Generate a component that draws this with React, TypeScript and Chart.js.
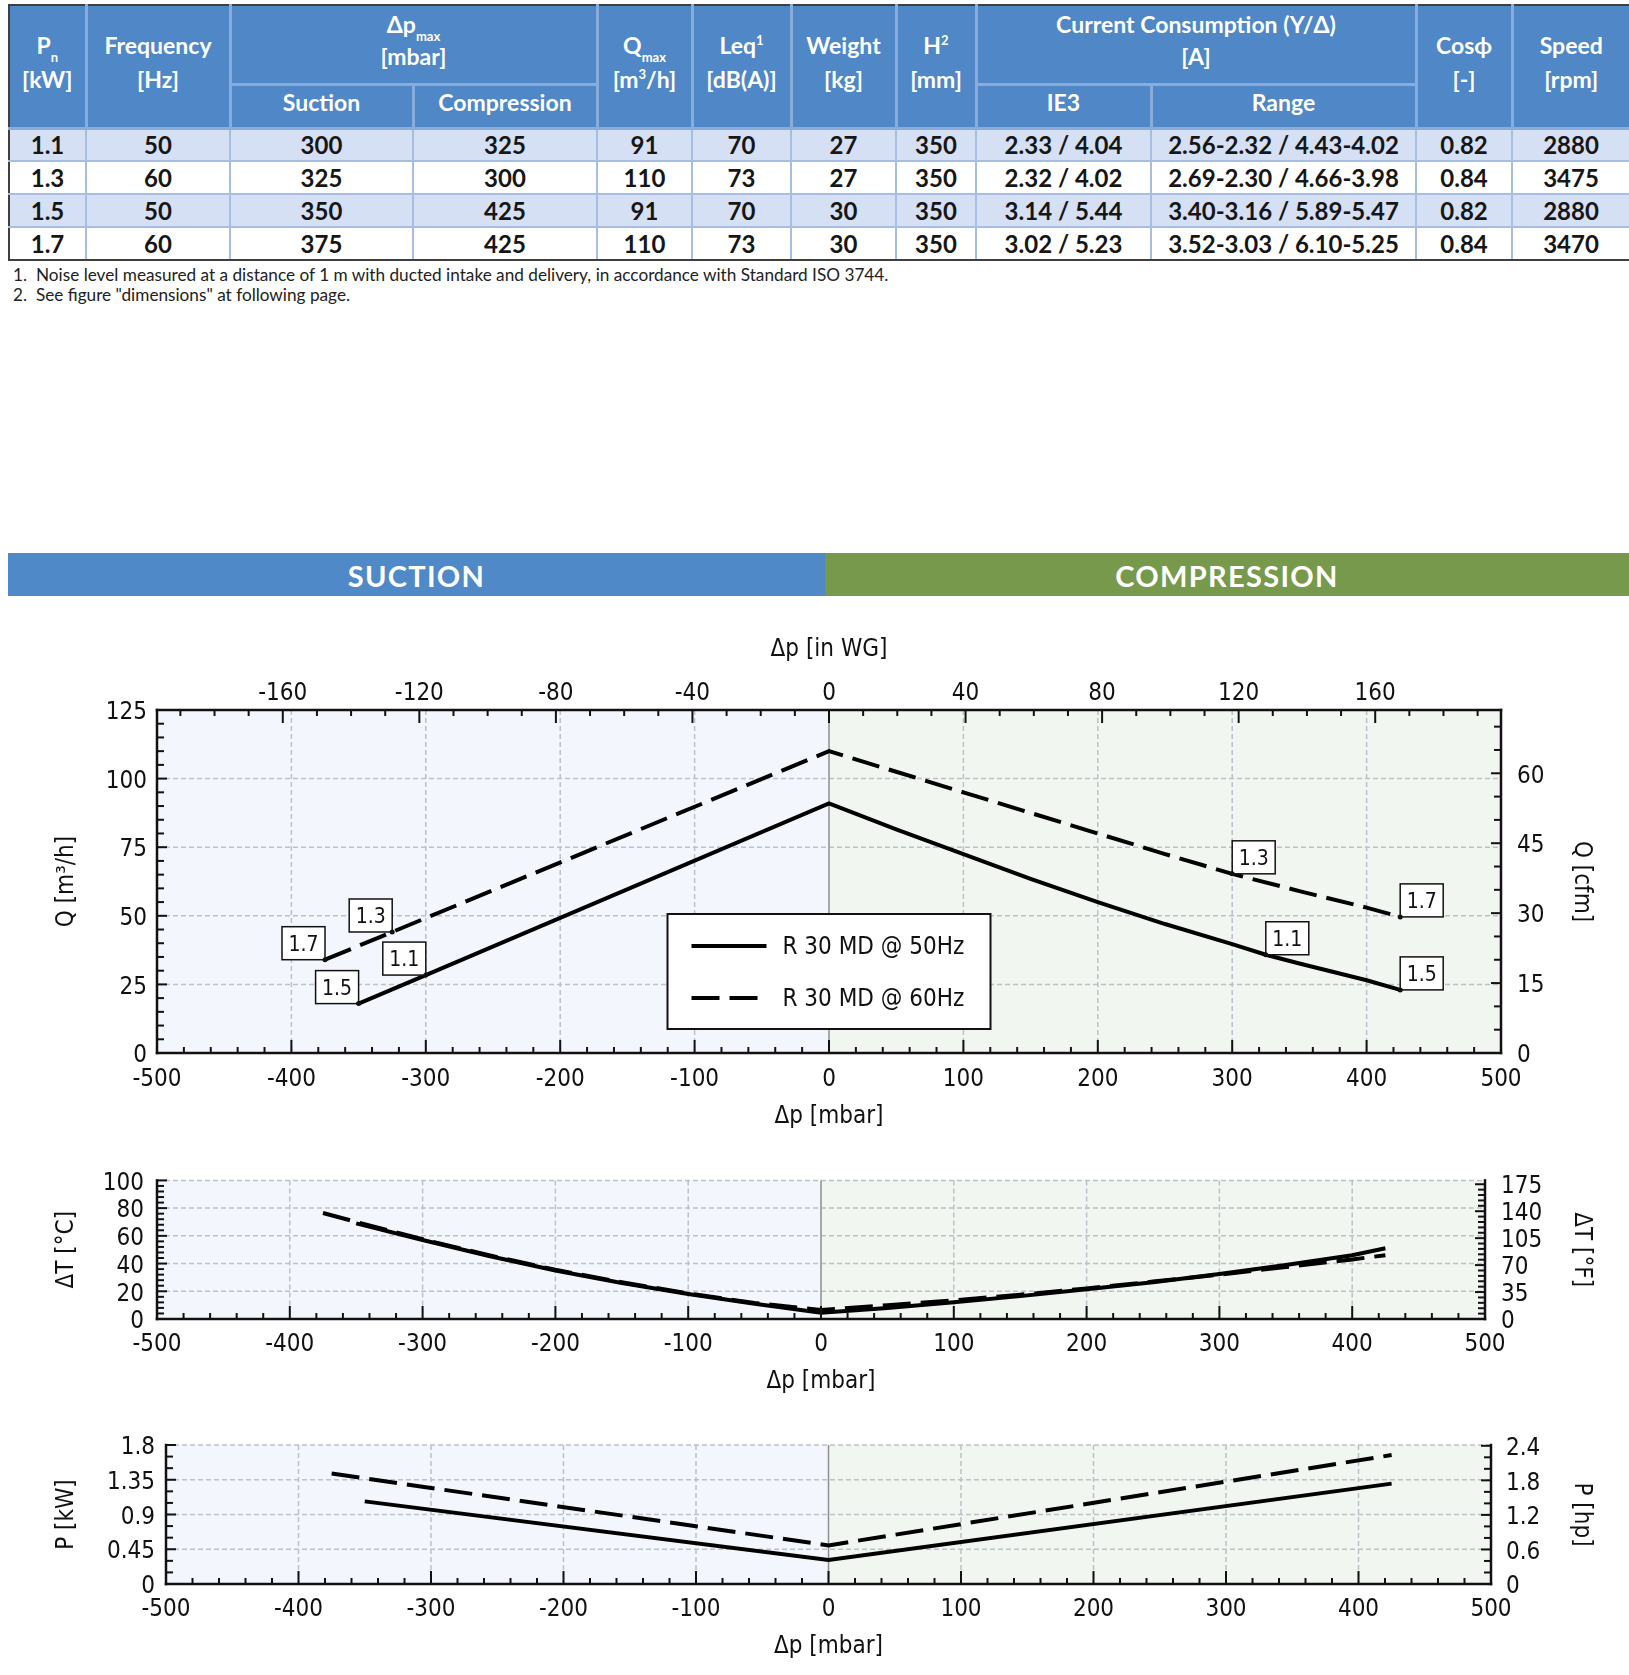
import React, { useEffect, useRef } from 'react';
import { Chart, registerables } from 'chart.js';

Chart.register(...registerables);

// ---------------- Table data ----------------
const models = ['1.1', '1.3', '1.5', '1.7'];
const frequencies = [50, 60, 50, 60];
const suctionMax = [300, 325, 350, 375];
const compressionMax = [325, 300, 425, 425];
const qMax = [91, 110, 91, 110];
const noiseLeq = [70, 73, 70, 73];
const weights = [27, 27, 30, 30];
const heightsMm = [350, 350, 350, 350];
const currentIE3 = ['2.33 / 4.04', '2.32 / 4.02', '3.14 / 5.44', '3.02 / 5.23'];
const currentRange = ['2.56-2.32 / 4.43-4.02', '2.69-2.30 / 4.66-3.98', '3.40-3.16 / 5.89-5.47', '3.52-3.03 / 6.10-5.25'];
const cosPhi = ['0.82', '0.84', '0.82', '0.84'];
const speeds = [2880, 3475, 2880, 3470];

// ---------------- Chart data ----------------
// Flow Q [m3/h] vs Δp [mbar]
const flow50Dp = [-350, -300, 0, 50, 100, 150, 200, 250, 300, 325, 350, 400, 425];
const flow50 = [18, 28.4, 91, 81.5, 72.5, 63.5, 55, 47, 39.7, 35.8, 32.6, 26.5, 23];
const flow60Dp = [-375, -325, 0, 50, 100, 150, 200, 250, 300, 350, 400, 425];
const flow60 = [34, 44.1, 110, 102.5, 95, 87.5, 80, 72.5, 65.3, 59, 53, 49.6];
// Temperature rise ΔT [°C] vs Δp [mbar]
const temp50Dp = [-350, -300, -250, -200, -150, -100, -50, 0, 50, 100, 150, 200, 250, 300, 350, 400, 425];
const temp50 = [69, 57, 45.5, 35, 26, 18, 11, 4.5, 8, 12, 16.5, 21.5, 26.5, 32.5, 39, 46, 51];
const temp60Dp = [-375, -350, -300, -250, -200, -150, -100, -50, 0, 50, 100, 150, 200, 250, 300, 350, 400, 425];
const temp60 = [76.5, 70, 57.5, 46, 35.5, 26.5, 18.5, 11.5, 6.5, 10, 13.5, 17.5, 22, 27, 32, 37.5, 43, 46];
// Power P [kW] vs Δp [mbar]
const power50Dp = [-350, 0, 425];
const power50 = [1.07, 0.31, 1.3];
const power60Dp = [-375, 0, 425];
const power60 = [1.43, 0.5, 1.67];

const seriesLabels = ['R 30 MD @ 50Hz', 'R 30 MD @ 60Hz'];

// unit conversions for secondary axes
const CFM_PER_M3H = 0.588578;
const MBAR_PER_INWG = 2.54;
const F_PER_C = 1.8;
const HP_PER_KW = 1.341;

// ---------------- Styling ----------------
const FONT = "'DejaVu Sans Condensed', 'DejaVu Sans', sans-serif";
const TABLE_FONT = "Lato, 'Open Sans', sans-serif";
const INK = '#111111';
const DASH = [28, 10];
const W = 1629;

function interp(xs: number[], ys: number[], x: number) {
  for (let i = 0; i < xs.length - 1; i++) {
    if (x >= xs[i] && x <= xs[i + 1]) {
      const t = (x - xs[i]) / (xs[i + 1] - xs[i]);
      return ys[i] + t * (ys[i + 1] - ys[i]);
    }
  }
  return NaN;
}

function fmt(v: number) {
  return String(Math.round(v * 100) / 100);
}

type Pos = 'left' | 'right' | 'top' | 'bottom';
type AxisSpec = {
  position: Pos; min: number; max: number; step: number; size: number;
  tickPad: number; title: string; titlePad: number;
};

function buildScale(s: AxisSpec) {
  const vertical = s.position === 'left' || s.position === 'right';
  return {
    type: 'linear',
    position: s.position,
    min: s.min,
    max: s.max,
    grid: { display: false, drawTicks: false, drawOnChartArea: false },
    border: { display: false },
    ticks: {
      stepSize: s.step,
      includeBounds: false,
      autoSkip: false,
      maxRotation: 0,
      minRotation: 0,
      padding: s.tickPad,
      labelOffset: vertical ? 3 : 0,
      color: INK,
      font: { family: FONT, size: 24 },
      callback: (v: number) => fmt(v),
    },
    title: {
      display: true,
      text: s.title,
      color: INK,
      font: { family: FONT, size: 24 },
      padding: s.position === 'bottom' ? { top: 0, bottom: s.titlePad } : { top: s.titlePad, bottom: 0 },
    },
    afterFit: (sc: any) => {
      if (vertical) sc.width = s.size;
      else sc.height = s.size;
    },
  };
}

function lineDataset(label: string, xs: number[], ys: number[], dash: number[]) {
  return {
    label,
    data: xs.map((x, i) => ({ x, y: ys[i] })),
    borderColor: '#000',
    backgroundColor: '#000',
    borderWidth: 4,
    borderDash: dash,
    pointRadius: 0,
    tension: 0,
    fill: false,
    xAxisID: 'x',
    yAxisID: 'y',
  };
}

type TickSpec = { axis: string; side: Pos; major: number; minor: number };
type PointLabel = { text: string; dp: number; val: number; side: 'left' | 'right' };
type DecorConfig = {
  topSolid: boolean;
  ticks: TickSpec[];
  pointLabels?: PointLabel[];
  legend?: boolean;
};

function seg(ctx: CanvasRenderingContext2D, x1: number, y1: number, x2: number, y2: number) {
  ctx.beginPath();
  ctx.moveTo(x1, y1);
  ctx.lineTo(x2, y2);
  ctx.stroke();
}

function makeDecor(cfg: DecorConfig) {
  return {
    id: 'decor',
    beforeDatasetsDraw(chart: any) {
      const ctx: CanvasRenderingContext2D = chart.ctx;
      const a = chart.chartArea;
      const xs = chart.scales.x;
      const ys = chart.scales.y;
      const x0 = xs.getPixelForValue(0);
      ctx.save();
      ctx.fillStyle = '#F3F7FD';
      ctx.fillRect(a.left, a.top, x0 - a.left, a.bottom - a.top);
      ctx.fillStyle = '#F1F6F0';
      ctx.fillRect(x0, a.top, a.right - x0, a.bottom - a.top);
      ctx.lineWidth = 1.5;
      ctx.strokeStyle = '#BAC1C9';
      ctx.setLineDash([5, 3]);
      xs.ticks.forEach((t: any) => {
        if (t.value <= xs.min || t.value >= xs.max || t.value === 0) return;
        const px = xs.getPixelForValue(t.value);
        seg(ctx, px, a.top, px, a.bottom);
      });
      ys.ticks.forEach((t: any) => {
        if (t.value <= ys.min) return;
        if (cfg.topSolid && t.value >= ys.max) return;
        const py = ys.getPixelForValue(t.value);
        seg(ctx, a.left, py, a.right, py);
      });
      ctx.setLineDash([]);
      ctx.strokeStyle = '#8E8E8E';
      seg(ctx, x0, a.top, x0, a.bottom);
      ctx.restore();
    },
    afterDatasetsDraw(chart: any) {
      const ctx: CanvasRenderingContext2D = chart.ctx;
      const a = chart.chartArea;
      const xs = chart.scales.x;
      const ys = chart.scales.y;
      ctx.save();
      // frame
      ctx.strokeStyle = INK;
      ctx.lineWidth = 2.5;
      ctx.lineCap = 'square';
      seg(ctx, a.left, a.top, a.left, a.bottom);
      seg(ctx, a.left, a.bottom, a.right, a.bottom);
      seg(ctx, a.right, a.top, a.right, a.bottom);
      if (cfg.topSolid) seg(ctx, a.left, a.top, a.right, a.top);
      // inward ticks
      ctx.lineCap = 'butt';
      ctx.lineWidth = 2;
      cfg.ticks.forEach((t) => {
        const sc = chart.scales[t.axis];
        const k0 = Math.ceil(sc.min / t.minor - 1e-9);
        const k1 = Math.floor(sc.max / t.minor + 1e-9);
        const horizontal = t.side === 'top' || t.side === 'bottom';
        for (let k = k0; k <= k1; k++) {
          const v = k * t.minor;
          const r = v / t.major;
          const isMajor = Math.abs(r - Math.round(r)) < 1e-6;
          const len = horizontal ? (isMajor ? 13 : 6) : (isMajor ? 10 : 7);
          const p = sc.getPixelForValue(v);
          if (t.side === 'bottom') seg(ctx, p, a.bottom, p, a.bottom - len);
          if (t.side === 'top') seg(ctx, p, a.top, p, a.top + len);
          if (t.side === 'left') seg(ctx, a.left, p, a.left + len, p);
          if (t.side === 'right') seg(ctx, a.right, p, a.right - len, p);
        }
      });
      // point labels
      if (cfg.pointLabels) {
        ctx.font = `21px ${FONT}`;
        ctx.textAlign = 'center';
        ctx.textBaseline = 'middle';
        cfg.pointLabels.forEach((pl) => {
          const px = xs.getPixelForValue(pl.dp);
          const py = ys.getPixelForValue(pl.val);
          const bw = 43;
          const bh = 33;
          const bx = pl.side === 'left' ? px - bw : px;
          const by = py - bh;
          ctx.fillStyle = '#fff';
          ctx.fillRect(bx, by, bw, bh);
          ctx.lineWidth = 1.5;
          ctx.strokeStyle = INK;
          ctx.strokeRect(bx, by, bw, bh);
          ctx.fillStyle = INK;
          ctx.fillText(pl.text, bx + bw / 2, by + bh / 2 + 2);
          ctx.beginPath();
          ctx.arc(px, py, 2.5, 0, Math.PI * 2);
          ctx.fill();
        });
      }
      // legend
      if (cfg.legend) {
        const x0 = xs.getPixelForValue(0);
        const bw = 323;
        const bh = 115;
        const left = x0 - bw / 2;
        const top = a.bottom - 24 - bh;
        ctx.fillStyle = '#fff';
        ctx.fillRect(left, top, bw, bh);
        ctx.strokeStyle = INK;
        ctx.lineWidth = 2;
        ctx.strokeRect(left, top, bw, bh);
        ctx.font = `24px ${FONT}`;
        ctx.textAlign = 'left';
        ctx.textBaseline = 'middle';
        chart.data.datasets.forEach((ds: any, i: number) => {
          const y = top + 32 + i * 52;
          ctx.setLineDash(ds.borderDash || []);
          ctx.lineWidth = 4;
          ctx.strokeStyle = '#000';
          seg(ctx, left + 24, y, left + 99, y);
          ctx.setLineDash([]);
          ctx.fillStyle = INK;
          ctx.fillText(ds.label, left + 115, y + 2);
        });
      }
      ctx.restore();
    },
  };
}

function baseOptions(padTop: number, scales: any) {
  return {
    responsive: false,
    maintainAspectRatio: false,
    animation: false,
    events: [],
    layout: { padding: { top: padTop, left: 0, right: 0, bottom: 0 } },
    plugins: { legend: { display: false }, tooltip: { enabled: false } },
    scales,
  };
}

function flowConfig() {
  const pointLabels: PointLabel[] = [];
  models.forEach((m, i) => {
    const xs = frequencies[i] === 50 ? flow50Dp : flow60Dp;
    const ys = frequencies[i] === 50 ? flow50 : flow60;
    pointLabels.push({ text: m, dp: -suctionMax[i], val: interp(xs, ys, -suctionMax[i]), side: 'left' });
    pointLabels.push({ text: m, dp: compressionMax[i], val: interp(xs, ys, compressionMax[i]), side: 'right' });
  });
  return {
    type: 'line',
    data: {
      datasets: [
        lineDataset(seriesLabels[0], flow50Dp, flow50, []),
        lineDataset(seriesLabels[1], flow60Dp, flow60, DASH),
      ],
    },
    options: baseOptions(0, {
      x: buildScale({ position: 'bottom', min: -500, max: 500, step: 100, size: 97, tickPad: 12, title: 'Δp [mbar]', titlePad: 19 }),
      xTop: buildScale({ position: 'top', min: -500 / MBAR_PER_INWG, max: 500 / MBAR_PER_INWG, step: 40, size: 100, tickPad: 2, title: 'Δp [in WG]', titlePad: 25.6 }),
      y: buildScale({ position: 'left', min: 0, max: 125, step: 25, size: 157, tickPad: 10, title: 'Q [m³/h]', titlePad: 52.6 }),
      yR: buildScale({ position: 'right', min: 0, max: 125 * CFM_PER_M3H, step: 15, size: 128, tickPad: 16, title: 'Q [cfm]', titlePad: 33.6 }),
    }),
    plugins: [
      makeDecor({
        topSolid: true,
        ticks: [
          { axis: 'x', side: 'bottom', major: 100, minor: 20 },
          { axis: 'xTop', side: 'top', major: 40, minor: 10 },
          { axis: 'y', side: 'left', major: 25, minor: 5 },
          { axis: 'yR', side: 'right', major: 15, minor: 5 },
        ],
        pointLabels,
        legend: true,
      }),
    ],
  };
}

function tempConfig() {
  return {
    type: 'line',
    data: {
      datasets: [
        lineDataset(seriesLabels[0], temp50Dp, temp50, []),
        lineDataset(seriesLabels[1], temp60Dp, temp60, DASH),
      ],
    },
    options: baseOptions(30, {
      x: buildScale({ position: 'bottom', min: -500, max: 500, step: 100, size: 81, tickPad: 11.5, title: 'Δp [mbar]', titlePad: 3.6 }),
      y: buildScale({ position: 'left', min: 0, max: 100, step: 20, size: 157, tickPad: 13, title: 'ΔT [°C]', titlePad: 52.6 }),
      yR: buildScale({ position: 'right', min: 0, max: 100 * F_PER_C, step: 35, size: 144, tickPad: 16, title: 'ΔT [°F]', titlePad: 33.6 }),
    }),
    plugins: [
      makeDecor({
        topSolid: false,
        ticks: [
          { axis: 'x', side: 'bottom', major: 100, minor: 20 },
          { axis: 'y', side: 'left', major: 20, minor: 4 },
          { axis: 'yR', side: 'right', major: 35, minor: 7 },
        ],
      }),
    ],
  };
}

function powerConfig() {
  return {
    type: 'line',
    data: {
      datasets: [
        lineDataset(seriesLabels[0], power50Dp, power50, []),
        lineDataset(seriesLabels[1], power60Dp, power60, DASH),
      ],
    },
    options: baseOptions(45, {
      x: buildScale({ position: 'bottom', min: -500, max: 500, step: 100, size: 91, tickPad: 11, title: 'Δp [mbar]', titlePad: 13.6 }),
      y: buildScale({ position: 'left', min: 0, max: 1.8, step: 0.45, size: 166, tickPad: 11, title: 'P [kW]', titlePad: 52.6 }),
      yR: buildScale({ position: 'right', min: 0, max: 1.8 * HP_PER_KW, step: 0.6, size: 138, tickPad: 15, title: 'P [hp]', titlePad: 33.6 }),
    }),
    plugins: [
      makeDecor({
        topSolid: false,
        ticks: [
          { axis: 'x', side: 'bottom', major: 100, minor: 20 },
          { axis: 'y', side: 'left', major: 0.45, minor: 0.15 },
          { axis: 'yR', side: 'right', major: 0.6, minor: 0.2 },
        ],
      }),
    ],
  };
}

function ChartCanvas({ top, height, make }: { top: number; height: number; make: () => any }) {
  const ref = useRef<HTMLCanvasElement>(null);
  useEffect(() => {
    const chart = new Chart(ref.current as HTMLCanvasElement, make());
    return () => chart.destroy();
  }, []);
  return (
    <canvas
      ref={ref}
      width={W}
      height={height}
      style={{ position: 'absolute', left: 0, top, width: W, height, display: 'block' }}
    />
  );
}

// ---------------- Table ----------------
const HEAD_BG = '#4F87C7';
const HEAD_LINE = '3px solid #8AACDA';
const BODY_LINE = '2px solid #A6BEE3';
const EDGE = '2px solid #3F3F3F';

const Sub = ({ children }: { children: any }) => (
  <span style={{ fontSize: 13, lineHeight: 0, position: 'relative', top: 8 }}>{children}</span>
);
const Sup = ({ children }: { children: any }) => (
  <span style={{ fontSize: 13, lineHeight: 0, position: 'relative', top: -9 }}>{children}</span>
);

function thStyle(extra: any = {}): React.CSSProperties {
  return {
    background: HEAD_BG,
    color: '#fff',
    fontWeight: 700,
    fontSize: 23,
    lineHeight: '34px',
    padding: '0 0 8px 0',
    textAlign: 'center',
    verticalAlign: 'middle',
    border: HEAD_LINE,
    ...extra,
  };
}

function SpecTable() {
  const colW = [77, 144, 183, 184, 95, 99, 105, 80, 175, 265, 96, 118];
  const rows = models.map((m, i) => [
    m,
    String(frequencies[i]),
    String(suctionMax[i]),
    String(compressionMax[i]),
    String(qMax[i]),
    String(noiseLeq[i]),
    String(weights[i]),
    String(heightsMm[i]),
    currentIE3[i],
    currentRange[i],
    cosPhi[i],
    String(speeds[i]),
  ]);
  const span = { lineHeight: '32px', padding: '0 0 8px 0' };
  const low = { lineHeight: '28px', padding: '0 0 8px 0' };
  return (
    <table
      style={{
        position: 'absolute',
        left: 8,
        top: 4,
        width: 1621,
        borderCollapse: 'collapse',
        tableLayout: 'fixed',
        fontFamily: TABLE_FONT,
      }}
    >
      <colgroup>
        {colW.map((w, i) => (
          <col key={i} style={{ width: w }} />
        ))}
      </colgroup>
      <thead>
        <tr style={{ height: 79 }}>
          <th rowSpan={2} style={thStyle({ borderTop: EDGE, borderLeft: EDGE })}>P<Sub>n</Sub><br />[kW]</th>
          <th rowSpan={2} style={thStyle({ borderTop: EDGE })}>Frequency<br />[Hz]</th>
          <th colSpan={2} style={thStyle({ borderTop: EDGE, ...span })}>Δp<Sub>max</Sub><br />[mbar]</th>
          <th rowSpan={2} style={thStyle({ borderTop: EDGE })}>Q<Sub>max</Sub><br />[m<Sup>3</Sup>/h]</th>
          <th rowSpan={2} style={thStyle({ borderTop: EDGE })}>Leq<Sup>1</Sup><br />[dB(A)]</th>
          <th rowSpan={2} style={thStyle({ borderTop: EDGE })}>Weight<br />[kg]</th>
          <th rowSpan={2} style={thStyle({ borderTop: EDGE })}>H<Sup>2</Sup><br />[mm]</th>
          <th colSpan={2} style={thStyle({ borderTop: EDGE, ...span })}>Current Consumption (Y/Δ)<br />[A]</th>
          <th rowSpan={2} style={thStyle({ borderTop: EDGE })}>Cosϕ<br />[-]</th>
          <th rowSpan={2} style={thStyle({ borderTop: EDGE, borderRight: EDGE })}>Speed<br />[rpm]</th>
        </tr>
        <tr style={{ height: 44 }}>
          <th style={thStyle(low)}>Suction</th>
          <th style={thStyle(low)}>Compression</th>
          <th style={thStyle(low)}>IE3</th>
          <th style={thStyle(low)}>Range</th>
        </tr>
      </thead>
      <tbody>
        {rows.map((r, ri) => (
          <tr key={ri} style={{ height: 33, background: ri % 2 === 0 ? '#D6E0F4' : '#FFFFFF' }}>
            {r.map((c, ci) => (
              <td
                key={ci}
                style={{
                  fontWeight: 700,
                  fontSize: 24,
                  lineHeight: '30px',
                  padding: 0,
                  textAlign: 'center',
                  verticalAlign: 'middle',
                  color: '#161616',
                  border: BODY_LINE,
                  borderLeft: ci === 0 ? EDGE : BODY_LINE,
                  borderRight: ci === r.length - 1 ? EDGE : BODY_LINE,
                  borderBottom: ri === rows.length - 1 ? EDGE : BODY_LINE,
                }}
              >
                {c}
              </td>
            ))}
          </tr>
        ))}
      </tbody>
    </table>
  );
}

const footnotes = [
  'Noise level measured at a distance of 1 m with ducted intake and delivery, in accordance with Standard ISO 3744.',
  'See figure "dimensions" at following page.',
];

function Footnotes() {
  return (
    <div style={{ position: 'absolute', left: 13, top: 265, fontFamily: TABLE_FONT, fontSize: 17.2, lineHeight: '20px', color: '#222' }}>
      {footnotes.map((f, i) => (
        <div key={i} style={{ whiteSpace: 'nowrap' }}>
          <span style={{ display: 'inline-block', width: 23 }}>{i + 1}.</span>
          {f}
        </div>
      ))}
    </div>
  );
}

function Banner() {
  const common: React.CSSProperties = {
    position: 'absolute',
    top: 553,
    height: 43,
    color: '#fff',
    fontFamily: TABLE_FONT,
    fontWeight: 700,
    fontSize: 29,
    lineHeight: '45px',
    textAlign: 'center',
    letterSpacing: 1.3,
  };
  return (
    <>
      <div style={{ ...common, left: 8, width: 817, background: '#5089C8' }}>SUCTION</div>
      <div style={{ ...common, left: 825, width: 804, background: '#77994B' }}>COMPRESSION</div>
    </>
  );
}

export default function App() {
  return (
    <div style={{ position: 'absolute', left: 0, top: 0, width: W, height: 1675, overflow: 'hidden', background: '#fff' }}>
      <SpecTable />
      <Footnotes />
      <Banner />
      <ChartCanvas top={610} height={540} make={flowConfig} />
      <ChartCanvas top={1150} height={250} make={tempConfig} />
      <ChartCanvas top={1400} height={275} make={powerConfig} />
    </div>
  );
}
